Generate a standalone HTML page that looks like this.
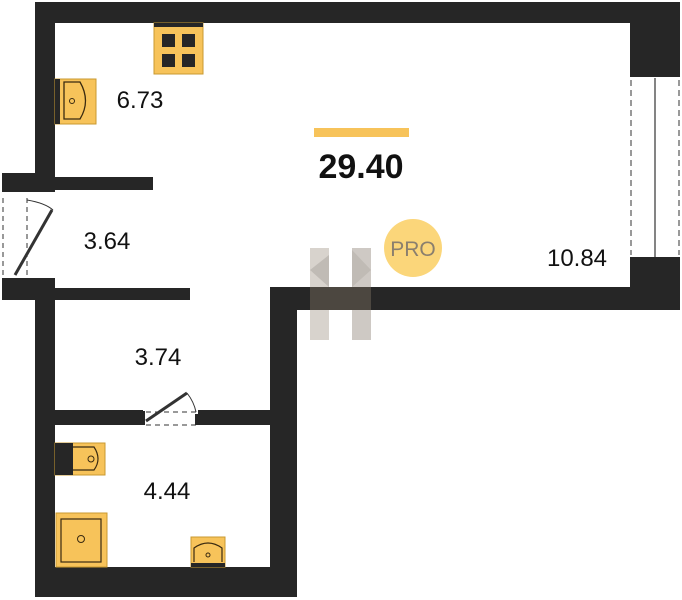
<!DOCTYPE html>
<html><head><style>
body{margin:0;background:#fff;}
svg{display:block}
text{font-family:"Liberation Sans",sans-serif;fill:#111;}
</style></head><body>
<svg width="682" height="600" viewBox="0 0 682 600" xmlns="http://www.w3.org/2000/svg">
<g fill="#262626">
<rect x="35" y="2" width="645" height="21"/>
<rect x="35" y="2" width="20" height="190"/>
<rect x="630" y="2" width="50" height="73"/>
<rect x="630" y="258" width="50" height="52"/>
<rect x="270" y="287" width="410" height="23"/>
<rect x="270" y="287" width="27" height="310"/>
<rect x="2" y="173" width="53" height="19"/>
<rect x="2" y="278" width="53" height="22"/>
<rect x="35" y="278" width="20" height="319"/>
<rect x="35" y="567" width="262" height="30"/>
<rect x="55" y="177" width="98" height="13"/>
<rect x="55" y="288" width="135" height="12"/>
<rect x="55" y="410" width="88" height="15"/>
<rect x="198" y="410" width="72" height="15"/>
</g>
<g stroke="#333" fill="none">
<line x1="631" y1="80" x2="631" y2="255" stroke-dasharray="6,4"/>
<line x1="679" y1="80" x2="679" y2="255" stroke-dasharray="6,4"/>
<line x1="655" y1="78" x2="655" y2="257" stroke-width="1.2"/>
</g>
<rect x="630" y="74" width="50" height="3" fill="#262626"/>
<rect x="630" y="257" width="50" height="3" fill="#262626"/>
<g stroke="#333" fill="none">
<line x1="3" y1="198" x2="3" y2="276" stroke-dasharray="5,4"/>
<line x1="27" y1="198" x2="27" y2="276" stroke-dasharray="5,4"/>
<line x1="15" y1="275" x2="52" y2="210" stroke-width="3"/>
<path d="M27 200 Q45 203 53 210" stroke-width="1"/>
</g>
<g stroke="#333" fill="none">
<line x1="146" y1="412" x2="196" y2="412" stroke-dasharray="5,4"/>
<line x1="146" y1="425" x2="196" y2="425" stroke-dasharray="5,4"/>
<line x1="146" y1="421" x2="187" y2="393" stroke-width="3"/>
<path d="M187 393 Q194 402 196 412" stroke-width="1"/>
</g>
<rect x="141" y="411" width="4" height="14" fill="#262626"/>
<rect x="195" y="414" width="4" height="11" fill="#262626"/>
<rect x="154" y="23" width="49" height="51" fill="#f7c35a" stroke="#c89a30"/>
<rect x="154" y="23" width="49" height="4" fill="#262626"/>
<g fill="#262626"><rect x="162" y="34" width="13" height="13"/><rect x="182" y="34" width="13" height="13"/><rect x="162" y="54" width="13" height="13"/><rect x="182" y="54" width="13" height="13"/></g>
<rect x="55" y="79" width="41" height="45" fill="#f7c35a" stroke="#c89a30"/>
<rect x="55" y="79" width="5" height="45" fill="#262626"/>
<path d="M64 82 H80 Q91 101 80 119 H64 Z" fill="none" stroke="#3a2a10" stroke-width="1.3"/>
<circle cx="72" cy="101" r="2.5" fill="none" stroke="#3a2a10"/>
<rect x="55" y="443" width="50" height="32" fill="#f7c35a" stroke="#c89a30"/>
<rect x="55" y="443" width="18" height="32" fill="#262626"/>
<path d="M73 447 H94 Q102 459 94 470 H73" fill="none" stroke="#3a2a10" stroke-width="1.2"/>
<circle cx="91" cy="459" r="3" fill="none" stroke="#3a2a10"/>
<rect x="56" y="513" width="51" height="54" fill="#f7c35a" stroke="#c89a30"/>
<rect x="61" y="519" width="40" height="43" fill="none" stroke="#3a2a10" stroke-width="1.2"/>
<circle cx="81" cy="539" r="3.5" fill="none" stroke="#3a2a10"/>
<rect x="191" y="537" width="34" height="30" fill="#f7c35a" stroke="#c89a30"/>
<rect x="191" y="563" width="34" height="4" fill="#262626"/>
<path d="M194 562 V548 Q208 538 222 548 V562" fill="none" stroke="#3a2a10" stroke-width="1.2"/>
<circle cx="208" cy="555" r="2" fill="none" stroke="#3a2a10"/>
<g opacity="0.55">
<rect x="310" y="248" width="19" height="92" fill="#b9b0a6"/>
<rect x="352" y="248" width="19" height="92" fill="#a79e94"/>
<rect x="310" y="287" width="61" height="23" fill="#6c6257"/>
<polygon points="310,270 329,255 329,287" fill="#8d847a"/>
<polygon points="352,250 371,270 352,287" fill="#8d847a"/>
</g>
<circle cx="413" cy="248" r="29" fill="#fbd67a"/>
<text x="413" y="256" font-size="21" text-anchor="middle" style="fill:#8a7f6e">PRO</text>
<rect x="314" y="128" width="95" height="9" fill="#f7c35a"/>
<text x="361" y="178" font-size="34" font-weight="bold" text-anchor="middle">29.40</text>
<text x="140" y="108" font-size="24" text-anchor="middle">6.73</text>
<text x="107" y="249" font-size="24" text-anchor="middle">3.64</text>
<text x="577" y="266" font-size="24" text-anchor="middle">10.84</text>
<text x="158" y="365" font-size="24" text-anchor="middle">3.74</text>
<text x="167" y="499" font-size="24" text-anchor="middle">4.44</text>
</svg>
</body></html>
